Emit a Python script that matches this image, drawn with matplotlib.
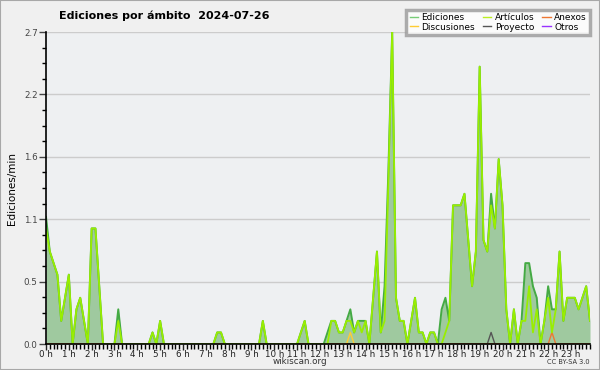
import numpy as np
import matplotlib
matplotlib.use('Agg')
import matplotlib.pyplot as plt
from matplotlib.lines import Line2D
from matplotlib.patches import Rectangle
from matplotlib.ticker import FixedLocator, MultipleLocator, FuncFormatter
from matplotlib import font_manager

# ediciones por minuto, una muestra cada 10 min (0h00 .. 23h50)
ediciones = [
    1.1, 0.8, 0.7, 0.6, 0.2, 0.4,   # 0 h
    0.6, 0, 0.3, 0.4, 0.2, 0,       # 1 h
    1.0, 1.0, 0.5, 0, 0, 0,         # 2 h
    0, 0.3, 0, 0, 0, 0,             # 3 h
    0, 0, 0, 0, 0.1, 0,             # 4 h
    0.2, 0, 0, 0, 0, 0,             # 5 h
    0, 0, 0, 0, 0, 0,               # 6 h
    0, 0, 0, 0.1, 0.1, 0,           # 7 h
    0, 0, 0, 0, 0, 0,               # 8 h
    0, 0, 0, 0.2, 0, 0,             # 9 h
    0, 0, 0, 0, 0, 0,               # 10 h
    0, 0.1, 0.2, 0, 0, 0,           # 11 h
    0, 0, 0.1, 0.2, 0.2, 0.1,       # 12 h
    0.1, 0.2, 0.3, 0.1, 0.2, 0.2,   # 13 h
    0.2, 0, 0.4, 0.8, 0.1, 0.5,     # 14 h
    1.5, 2.7, 0.4, 0.2, 0.2, 0,     # 15 h
    0.2, 0.4, 0.1, 0.1, 0, 0.1,     # 16 h
    0.1, 0, 0.3, 0.4, 0.2, 1.2,     # 17 h
    1.2, 1.2, 1.3, 0.9, 0.5, 0.8,   # 18 h
    2.4, 0.9, 0.8, 1.3, 1.0, 1.6,   # 19 h
    1.2, 0.3, 0, 0.3, 0, 0.2,       # 20 h
    0.7, 0.7, 0.5, 0.4, 0, 0.2,     # 21 h
    0.5, 0.3, 0.3, 0.8, 0.2, 0.4,   # 22 h
    0.4, 0.4, 0.3, 0.4, 0.5, 0.2,   # 23 h
]

articulos = [
    1.0, 0.8, 0.7, 0.6, 0.2, 0.4,
    0.6, 0, 0.3, 0.4, 0.2, 0,
    1.0, 1.0, 0.5, 0, 0, 0,
    0, 0.2, 0, 0, 0, 0,
    0, 0, 0, 0, 0.1, 0,
    0.2, 0, 0, 0, 0, 0,
    0, 0, 0, 0, 0, 0,
    0, 0, 0, 0.1, 0.1, 0,
    0, 0, 0, 0, 0, 0,
    0, 0, 0, 0.2, 0, 0,
    0, 0, 0, 0, 0, 0,
    0, 0.1, 0.2, 0, 0, 0,
    0, 0, 0, 0.2, 0.2, 0.1,
    0.1, 0.2, 0.2, 0.1, 0.2, 0.1,
    0.2, 0, 0.4, 0.8, 0.1, 0.2,
    1.4, 2.7, 0.4, 0.2, 0.2, 0,
    0.2, 0.4, 0.1, 0.1, 0, 0.1,
    0.1, 0, 0, 0.1, 0.2, 1.2,
    1.2, 1.2, 1.3, 0.9, 0.5, 0.8,
    2.4, 0.9, 0.8, 1.2, 1.0, 1.6,
    1.2, 0.3, 0, 0.3, 0, 0.2,
    0.2, 0.5, 0.1, 0.3, 0, 0.2,
    0.4, 0.1, 0.3, 0.8, 0.2, 0.4,
    0.4, 0.4, 0.3, 0.4, 0.5, 0.2,
]

# series casi vacias: (muestra, valor)
anexos_pts = [(133, 0.1)]
discusiones_pts = [(80, 0.1)]
proyecto_pts = [(117, 0.1)]
otros_pts = []

horas = [f'{h} h' for h in range(24)]
y_max = 2.7

n = len(ediciones)
x = np.arange(n) / 6.0


def serie(pts):
    v = np.zeros(n)
    for i, val in pts:
        v[i] = val
    return v


c_edic = '#44aa44'
c_fill = '#9fc99f'
c_art = '#99ee00'
c_anex = '#ee7733'
c_disc = '#ffcc33'
c_proy = '#555555'
c_otros = '#9933ff'

# fuente estrecha para el titulo si existe
nombres = {f.name for f in font_manager.fontManager.ttflist}
if 'Liberation Sans Narrow' in nombres:
    tit_font = dict(family='Liberation Sans Narrow', fontsize=9.5)
else:
    tit_font = dict(family='DejaVu Sans', fontsize=8)

fig = plt.figure(figsize=(6, 3.7), dpi=100, facecolor='#f0f0f0')
ax = fig.add_axes([46 / 600, 1 - 344 / 370, 544 / 600, 312 / 370])
ax.set_facecolor('#eef0f2')

ax.fill_between(x, ediciones, color=c_fill, lw=0, zorder=2)
ax.plot(x, serie(otros_pts), color=c_otros, lw=1, zorder=2.5)
ax.plot(x, serie(proyecto_pts), color=c_proy, lw=1, zorder=2.5)
ax.plot(x, serie(discusiones_pts), color=c_disc, lw=1, zorder=2.5)
ax.plot(x, serie(anexos_pts), color=c_anex, lw=1, zorder=2.5)
ax.plot(x, ediciones, color=c_edic, lw=1.4, zorder=3)
ax.plot(x, articulos, color=c_art, lw=1.3, zorder=3.5)

ax.set_xlim(0, (n - 1) / 6.0)
ax.set_ylim(0, y_max)

ax.xaxis.set_major_locator(FixedLocator(range(24)))
ax.set_xticklabels(horas)
ax.xaxis.set_minor_locator(MultipleLocator(1 / 6))
ax.yaxis.set_major_locator(FixedLocator(np.linspace(0, y_max, 6)))
ax.yaxis.set_major_formatter(FuncFormatter(lambda v, p: f'{v:.1f}'))
ax.yaxis.set_minor_locator(MultipleLocator(y_max / 20))

ax.tick_params(axis='x', which='major', length=4, width=1, labelsize=6.3,
               pad=0, colors='#222222')
ax.tick_params(axis='x', which='minor', length=3.5, width=1)
ax.tick_params(axis='y', which='major', length=5, width=1, labelsize=6.3,
               pad=1, colors='#444444')
ax.tick_params(axis='y', which='minor', length=3, width=1)

ax.grid(axis='y', which='major', color='#cccccc', lw=1, zorder=1)
ax.set_axisbelow(True)
for s in ['top', 'right']:
    ax.spines[s].set_visible(False)
for s in ['left', 'bottom']:
    ax.spines[s].set_linewidth(1.2)
    ax.spines[s].set_zorder(5)

ax.set_ylabel('Ediciones/min', fontsize=7.5, labelpad=5)

fig.text(164 / 600, 1 - 16 / 370, 'Ediciones por ámbito  2024-07-26',
         ha='center', va='center', fontweight='bold', **tit_font)
fig.text(300 / 600, 1 - 362 / 370, 'wikiscan.org', ha='center', va='center',
         fontsize=6.3, color='#333333')
fig.text(590 / 600, 1 - 362 / 370, 'CC BY-SA 3.0', ha='right', va='center',
         fontsize=4.8, color='#333333')

handles = [
    Line2D([], [], color='#77cc77', lw=1),
    Line2D([], [], color=c_disc, lw=1),
    Line2D([], [], color='#bbee22', lw=1),
    Line2D([], [], color=c_proy, lw=1),
    Line2D([], [], color=c_anex, lw=1),
    Line2D([], [], color=c_otros, lw=1),
]
labels = ['Ediciones', 'Discusiones', 'Artículos', 'Proyecto', 'Anexos', 'Otros']
leg = fig.legend(handles, labels, ncol=3, loc='upper right',
                 bbox_to_anchor=(590 / 600, 1 - 10 / 370), fontsize=6.5,
                 frameon=True, fancybox=False, handlelength=0.9,
                 handletextpad=0.4, columnspacing=0.9, labelspacing=0.05,
                 borderpad=0.35, borderaxespad=0)
leg.get_frame().set_edgecolor('#999999')
leg.get_frame().set_linewidth(2.5)
leg.get_frame().set_facecolor('white')

fig.patches.append(Rectangle((0, 0), 1, 1, transform=fig.transFigure,
                             fill=False, edgecolor='#a8a8a8', lw=1.5))

fig.savefig('out.png', dpi=100, facecolor=fig.get_facecolor())
